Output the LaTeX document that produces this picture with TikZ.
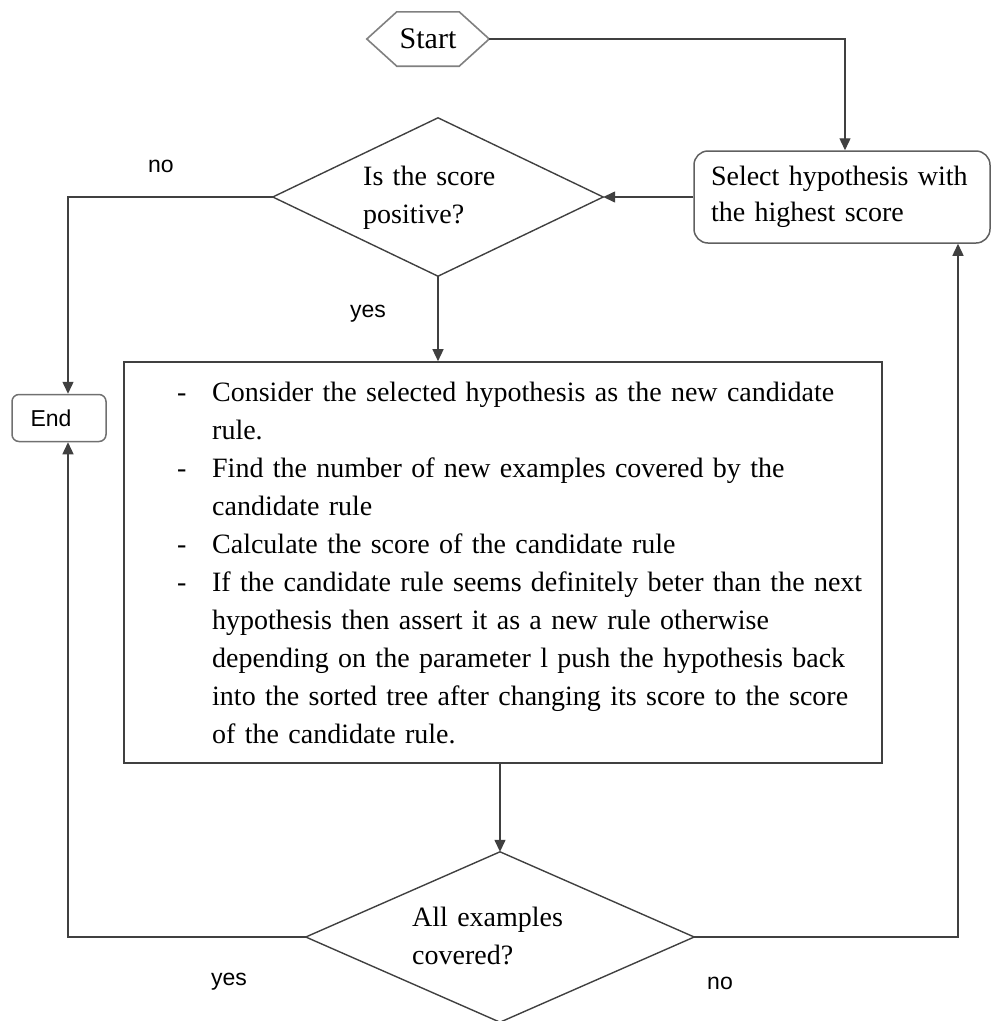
\documentclass[tikz,border=0pt]{standalone}
\usepackage{fontspec}
\setmainfont{Liberation Serif}
\newfontfamily\lblfont{Liberation Sans}
\usetikzlibrary{arrows.meta}
\definecolor{linec}{HTML}{404040}
\definecolor{shapec}{HTML}{404040}
\definecolor{hexc}{HTML}{808080}
\definecolor{selc}{HTML}{606060}
\definecolor{endc}{HTML}{707070}
\definecolor{mainc}{HTML}{404040}
\begin{document}
\begin{tikzpicture}[x=1pt,y=-1pt,
  line/.style={draw=linec, line width=1.4pt},
  arr/.style={line, -{Triangle[length=12pt,width=11pt]}},
  serif/.style={font=\fontsize{28}{38}\selectfont},
  lbl/.style={font=\lblfont\fontsize{23}{27}\selectfont, anchor=base, inner sep=0},
  outline/.style={draw=shapec, line width=1.4pt},
  plain/.style={inner sep=0},
]
\useasboundingbox (0,0) rectangle (992,1021);

% Start hexagon
\node[plain, minimum width=122pt, minimum height=54pt, font=\fontsize{30}{36}\selectfont] (start) at (428,39) {\raisebox{-3pt}{Start}};
\draw[draw=hexc, line width=1.6pt] (start.west) -- ([xshift=30pt]start.north west) -- ([xshift=-30pt]start.north east) -- (start.east) -- ([xshift=-30pt]start.south east) -- ([xshift=30pt]start.south west) -- cycle;

% Select box
\node[draw=selc, line width=1.5pt, rounded corners=14pt, minimum width=296pt, minimum height=92pt,
  text width=262pt, align=left, font=\fontsize{28}{36}\selectfont] (sel) at (842,197) {Select hypothesis with\\the highest score};

% Decision 1
\node[plain, minimum width=330pt, minimum height=158pt] (d1) at (438,197) {};
\draw[outline] (d1.north) -- (d1.east) -- (d1.south) -- (d1.west) -- cycle;
\node[plain, anchor=west, serif, text width=200pt, align=left] (d1text) at (363,198) {Is the score\\positive?};

% End box
\node[draw=endc, line width=1.5pt, rounded corners=7pt, minimum width=94pt, minimum height=47pt, inner sep=0,
  font=\lblfont\fontsize{23}{27}\selectfont] (end) at (59,418) {\hspace*{-16pt}End};

% Main box
\node[draw=mainc, line width=1.6pt, minimum width=758pt, minimum height=401pt, inner sep=0] (main) at (503,562.5) {};
\node[plain, anchor=west, serif, text width=760pt, align=left] (maintext) at (177,563) {%
\makebox[35pt][l]{-}Consider the selected hypothesis as the new candidate\\
\hspace*{35pt}rule.\\
\makebox[35pt][l]{-}Find the number of new examples covered by the\\
\hspace*{35pt}candidate rule\\
\makebox[35pt][l]{-}Calculate the score of the candidate rule\\
\makebox[35pt][l]{-}If the candidate rule seems definitely beter than the next\\
\hspace*{35pt}hypothesis then assert it as a new rule otherwise\\
\hspace*{35pt}depending on the parameter l push the hypothesis back\\
\hspace*{35pt}into the sorted tree after changing its score to the score\\
\hspace*{35pt}of the candidate rule.};

% Decision 2
\node[plain, minimum width=388pt, minimum height=170pt] (d2) at (500,937) {};
\draw[outline] (d2.north) -- (d2.east) -- (d2.south) -- (d2.west) -- cycle;
\node[plain, anchor=west, serif, text width=200pt, align=left] (d2text) at (412,936) {All examples\\covered?};

% Labels
\node[lbl] (no1) at (161,172) {no};
\node[lbl] (yes1) at (368,317) {yes};
\node[lbl] (yes2) at (229,985) {yes};
\node[lbl] (no2) at (720,989) {no};

% Connectors
\draw[arr] (start.east) -| ([xshift=3pt]sel.north);
\draw[arr] (sel.west) -- (d1.east);
\draw[arr] (d1.west) -| ([xshift=9pt]end.north);
\draw[arr] (d1.south) -- (d1.south |- main.north);
\draw[arr] (main.south -| d2.north) -- (d2.north);
\draw[arr] (d2.west) -| ([xshift=9pt]end.south);
\draw[arr] (d2.east) -| ([xshift=116pt]sel.south);
\end{tikzpicture}
\end{document}
